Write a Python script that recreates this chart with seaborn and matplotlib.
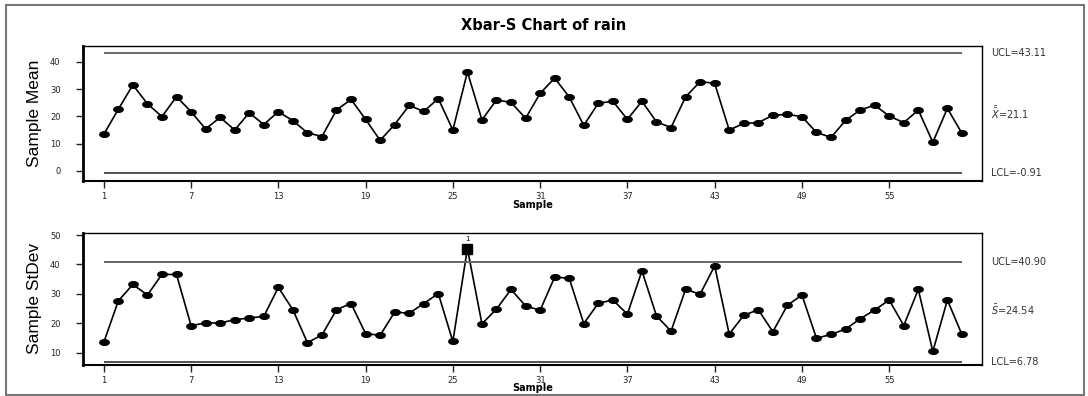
import numpy as np
import matplotlib
matplotlib.use("Agg")
import matplotlib.pyplot as plt
import seaborn as sns
from matplotlib.path import Path
from matplotlib.patches import Rectangle

# values
samples = list(range(1, 61))
sample_means = [13.4, 22.6, 31.5, 24.6, 19.9, 27.2, 21.7, 15.4, 19.6, 15.0,
                21.3, 17.0, 21.7, 18.4, 14.0, 12.6, 22.3, 26.2, 18.9, 11.2,
                17.0, 24.0, 21.8, 26.5, 15.0, 36.2, 18.7, 26.0, 25.1, 19.3,
                28.4, 34.0, 27.1, 16.7, 24.8, 25.5, 18.9, 25.5, 18.0, 15.9,
                27.1, 32.7, 32.1, 15.0, 17.4, 17.7, 20.4, 20.7, 19.9, 14.1,
                12.3, 18.5, 22.3, 24.1, 20.1, 17.7, 22.3, 10.5, 22.9, 13.8]
sample_stdevs = [13.5, 27.6, 33.2, 29.6, 36.6, 36.6, 19.2, 20.1, 20.1, 21.2,
                 21.8, 22.3, 32.2, 24.6, 13.4, 16.0, 24.6, 26.7, 16.5, 15.9,
                 23.8, 23.4, 26.7, 30.1, 13.8, 45.4, 19.8, 24.8, 31.5, 25.9,
                 24.4, 35.7, 35.3, 19.9, 26.8, 27.9, 23.1, 37.8, 22.5, 17.3,
                 31.5, 29.9, 39.5, 16.3, 22.7, 24.6, 17.1, 26.1, 29.6, 14.9,
                 16.2, 18.0, 21.5, 24.5, 27.9, 19.2, 31.5, 10.4, 27.9, 16.2]
xbar_limits = {"UCL": 43.11, "center": 21.1, "LCL": -0.91}
s_limits = {"UCL": 40.90, "center": 24.54, "LCL": 6.78}
flagged_s = [26]  # sample out of control on the S chart
x_ticks = [1, 7, 13, 19, 25, 31, 37, 43, 49, 55]

sns.set_style("white")
plt.rcParams["font.family"] = ["DejaVu Sans"]
plt.rcParams["text.color"] = "black"

# wide ellipse marker like the reference dots
t = np.linspace(0, 2 * np.pi, 25)
ellipse = Path(np.column_stack([np.cos(t), 0.62 * np.sin(t)]))

fig = plt.figure(figsize=(10.88, 3.96), dpi=100)
ax_top = fig.add_axes([0.0760, 0.5437, 0.8263, 0.3409])
ax_bot = fig.add_axes([0.0760, 0.0783, 0.8263, 0.3341])

label_font = ["Liberation Sans Narrow", "Liberation Sans", "DejaVu Sans"]


def style_axis(ax, yticks, ylim):
    ax.set_xlim(-0.45, 61.36)
    ax.set_ylim(*ylim)
    ax.set_xticks(x_ticks)
    ax.set_yticks(yticks)
    ax.tick_params(axis="both", direction="out", length=5, width=1,
                   labelsize=6, colors="#222222", left=True, bottom=True)
    ax.tick_params(axis="y", pad=11)
    ax.tick_params(axis="x", pad=3)
    for side, sp in ax.spines.items():
        sp.set_visible(True)
        sp.set_color("black")
        sp.set_linewidth(1.0)
    ax.spines["left"].set_linewidth(2.0)
    ax.spines["bottom"].set_linewidth(1.5)
    ax.set_xlabel("")
    ax.set_ylabel("")
    ax.grid(False)


def control_chart(ax, values, limits, center_text, fmt):
    sns.lineplot(x=samples, y=values, ax=ax, color="black", linewidth=1.2,
                 marker=ellipse, markersize=7, markeredgecolor="black",
                 markerfacecolor="black")
    ax.hlines(limits["UCL"], samples[0], samples[-1], colors="#666666",
              linewidth=1.4)
    ax.hlines(limits["LCL"], samples[0], samples[-1], colors="#222222",
              linewidth=1.1)
    tr = ax.get_yaxis_transform()
    ax.text(1.0104, limits["UCL"], "UCL=" + fmt.format(limits["UCL"]),
            transform=tr, fontsize=7, va="center", ha="left", color="#333333")
    ax.text(1.0104, limits["center"], center_text,
            transform=tr, fontsize=7, va="center", ha="left", color="#333333")
    ax.text(1.0104, limits["LCL"], "LCL=" + fmt.format(limits["LCL"]),
            transform=tr, fontsize=7, va="center", ha="left", color="#333333")


control_chart(ax_top, sample_means, xbar_limits,
              r"$\bar{\bar{X}}$=" + "{:.1f}".format(xbar_limits["center"]), "{:.2f}")
control_chart(ax_bot, sample_stdevs, s_limits,
              r"$\bar{S}$=" + "{:.2f}".format(s_limits["center"]), "{:.2f}")

style_axis(ax_top, [0, 10, 20, 30, 40], (-3.55, 45.85))
style_axis(ax_bot, [10, 20, 30, 40, 50], (5.8, 50.8))

# flagged sample: square marker with test number above
for s in flagged_s:
    ax_bot.plot(s, sample_stdevs[s - 1], marker="s", markersize=7,
                color="black", zorder=5)
    ax_bot.annotate("1", (s, sample_stdevs[s - 1]), xytext=(0, 5),
                    textcoords="offset points", ha="center", va="bottom",
                    fontsize=5)

for ax, y in [(ax_top, -0.18), (ax_bot, -0.174)]:
    ax.text(0.5, y, "Sample", transform=ax.transAxes, ha="center", va="center",
            fontsize=7, fontweight="bold")

fig.text(0.032, 0.7141, "Sample Mean", rotation=90, ha="center", va="center",
         fontsize=12.5, family=label_font)
fig.text(0.032, 0.2453, "Sample StDev", rotation=90, ha="center", va="center",
         fontsize=12.5, family=label_font)

fig.text(0.5, 0.935, "Xbar-S Chart of rain", ha="center", va="center",
         fontsize=10.5, fontweight="bold")

fig.patches.append(Rectangle((0.0055, 0.0025), 0.9908, 0.985,
                             transform=fig.transFigure, fill=False,
                             edgecolor="#777777", linewidth=1.5))

fig.savefig("out.png", dpi=100)
